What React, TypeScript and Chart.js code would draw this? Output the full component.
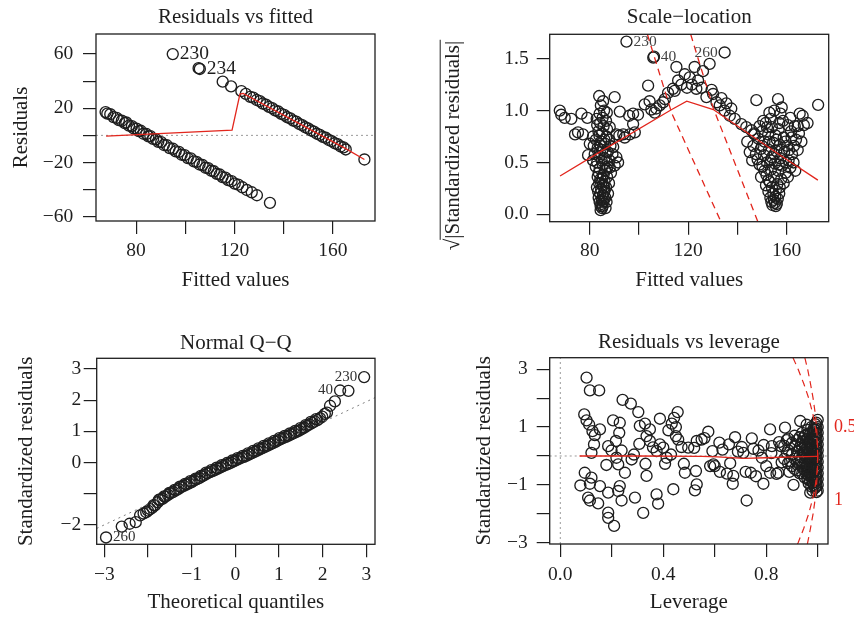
import React, { useEffect, useRef } from "react";
import { Chart, registerables } from "chart.js";

Chart.register(...registerables);

type Pair = [number, number];

const SERIF = '"Liberation Serif", "DejaVu Serif", serif';
const INK = "#1e1e1e";
const RED = "#e2261d";
const DOT = "#9a9a9a";

// ---------------- Panel 1: Residuals vs fitted ----------------
const p1XRange = [63.7, 177.1];
const p1YRange = [-63.2, 74.8];
const p1XTicks = [80, 100, 120, 140, 160];
const p1XLabels = ["80", "", "120", "", "160"];
const p1YTicks = [-60, -40, -20, 0, 20, 40, 60];
const p1YLabels = ["\u221260", "", "\u221220", "", "20", "", "60"];
const p1Points: Pair[] = [
  [67.6, 17.2], [68.3, 16.0], [69.5, 15.6], [70.8, 13.5], [72.1, 12.9], [73.0, 11.2], [74.2, 10.8], [75.4, 9.0],
  [76.0, 9.5], [77.1, 7.2], [78.3, 6.8], [79.0, 5.2], [80.2, 4.9], [81.1, 3.1], [81.9, 3.4], [83.0, 1.2],
  [84.2, 1.0], [85.0, -0.8], [85.8, -0.6], [86.9, -2.6], [88.1, -2.9], [89.0, -4.8], [90.2, -5.0], [91.3, -7.1],
  [92.5, -7.3], [93.6, -9.4], [95.0, -9.9], [96.1, -11.8], [97.4, -12.2], [98.5, -14.3], [99.7, -14.6], [101.0, -16.8],
  [102.2, -17.0], [103.5, -19.2], [104.6, -19.6], [105.8, -21.5], [107.0, -21.9], [108.2, -23.9], [109.3, -24.2],
  [110.5, -26.1], [111.6, -26.5], [112.8, -28.4], [114.0, -28.9], [115.1, -30.8], [116.3, -31.2], [117.4, -33.0],
  [118.8, -33.8], [120.1, -35.6], [121.5, -36.4], [123.2, -38.3], [125.0, -40.3], [127.0, -42.0], [129.1, -44.2],
  [134.4, -49.8],
  [94.9, 60.0], [105.4, 49.6], [105.9, 49.0], [115.2, 39.6], [118.6, 36.2], [122.8, 32.6], [124.6, 30.6],
  [126.4, 28.4], [127.6, 27.8], [129.0, 26.1], [130.3, 25.3], [131.5, 23.5], [132.8, 22.6], [134.0, 21.0],
  [135.3, 20.1], [136.5, 18.4], [137.8, 17.6], [139.0, 15.8], [140.2, 15.1], [141.4, 13.4], [142.7, 12.5],
  [143.9, 10.9], [145.1, 10.1], [146.3, 8.4], [147.5, 7.6], [148.7, 6.0], [149.9, 5.2], [151.1, 3.6], [152.3, 2.8],
  [153.5, 1.2], [154.7, 0.4], [155.9, -1.1], [157.1, -1.8], [158.3, -3.4], [159.5, -4.2], [160.7, -5.8],
  [161.9, -6.5], [163.1, -8.2], [164.3, -8.9], [165.2, -10.4], [172.8, -17.8],
];
const p1Smooth: Pair[] = [[67.8, -0.6], [119.0, 3.9], [122.2, 30.4], [123.5, 30.9], [145.0, 10.0], [165.0, -9.6], [172.8, -17.8]];
const p1Ids = [
  { text: "230", x: 94.9, y: 60.0, side: "r" },
  { text: "234", x: 105.9, y: 49.0, side: "r" },
];

// ---------------- Panel 2: Scale-location ----------------
const p2XRange = [63.7, 177.1];
const p2YRange = [-0.071, 1.735];
const p2XTicks = [80, 100, 120, 140, 160];
const p2XLabels = ["80", "", "120", "", "160"];
const p2YTicks = [0, 0.5, 1, 1.5];
const p2YLabels = ["0.0", "0.5", "1.0", "1.5"];
const p2YTitle = "\u221A|Standardized residuals|";
const p2Points: Pair[] = [
  [67.8, 1.0], [68.4, 0.96], [69.8, 0.93], [72.5, 0.92], [76.6, 0.97], [75.2, 0.79], [77.2, 0.77], [74.0, 0.77],
  [79.0, 0.93], [81.3, 0.75], [80.0, 0.68], [79.3, 0.57], [81.3, 0.52], [88.1, 0.84], [90.1, 1.13], [92.2, 0.99],
  [96.0, 0.95], [97.6, 0.97], [99.6, 0.96], [97.6, 0.87], [96.2, 0.77], [94.2, 0.74], [90.8, 0.77], [92.0, 0.76],
  [90.8, 0.55], [90.1, 0.47], [88.1, 0.45], [89.5, 0.65], [91.5, 0.5], [93.6, 0.77], [98.3, 0.79], [102.3, 1.06],
  [83.8, 1.14], [85.4, 1.09], [84.5, 1.05], [85.8, 1.0], [84.0, 0.97], [85.2, 0.93], [86.6, 0.9], [84.2, 0.88],
  [85.6, 0.85], [87.0, 0.82], [83.5, 0.8], [85.0, 0.78], [86.8, 0.75], [82.5, 0.72], [84.6, 0.7], [86.2, 0.68],
  [88.4, 0.66], [83.2, 0.64], [85.1, 0.62], [87.3, 0.6], [82.0, 0.58], [84.0, 0.56], [86.0, 0.54], [88.0, 0.52],
  [83.0, 0.5], [85.2, 0.48], [87.2, 0.46], [84.0, 0.44], [86.2, 0.42], [83.6, 0.4], [85.6, 0.38], [87.0, 0.36],
  [84.3, 0.34], [86.0, 0.32], [83.8, 0.3], [85.4, 0.28], [86.6, 0.26], [84.6, 0.24], [85.9, 0.22], [84.2, 0.2],
  [85.3, 0.18], [86.3, 0.16], [84.9, 0.14], [85.5, 0.12], [84.8, 0.1], [85.2, 0.08], [85.0, 0.06],
  [82.8, 0.92], [86.9, 0.98], [83.0, 0.86], [87.8, 0.72], [81.6, 0.66], [89.2, 0.58], [82.4, 0.46], [88.6, 0.4],
  [83.2, 0.36], [87.8, 0.3], [82.9, 0.26], [87.4, 0.2], [83.6, 0.16], [86.8, 0.12], [84.0, 0.12], [86.4, 0.06],
  [84.4, 0.04], [83.4, 0.22], [86.9, 0.44], [84.8, 0.52], [86.5, 0.6], [84.4, 0.66], [85.9, 0.72], [83.9, 0.76],
  [85.2, 0.35], [84.6, 0.3], [85.8, 0.26], [84.4, 0.08], [85.7, 0.15], [84.1, 0.6],
  [103.7, 1.24], [104.3, 1.09], [105.0, 1.01], [106.4, 0.98], [108.4, 1.05], [109.8, 1.08], [111.8, 1.17],
  [113.8, 1.21], [115.9, 1.29], [115.2, 1.42], [117.2, 1.25], [118.6, 1.35], [120.6, 1.32], [122.6, 1.42],
  [124.0, 1.29], [126.0, 1.38], [128.7, 1.45], [123.3, 1.21], [127.4, 1.13], [130.1, 1.16], [131.5, 1.08],
  [132.8, 1.05], [134.8, 1.0], [136.9, 0.95], [138.9, 0.92], [141.6, 0.87], [143.6, 0.84], [145.7, 0.81],
  [147.0, 0.77], [107.0, 1.02], [110.5, 1.11], [114.5, 1.19], [119.5, 1.22], [121.5, 1.25], [125.5, 1.22],
  [129.5, 1.2], [133.5, 1.12], [135.5, 1.07], [137.5, 1.02], [105.8, 1.51], [106.1, 1.52], [94.9, 1.665], [134.8, 1.56],
  [147.7, 1.1], [156.5, 1.11], [172.8, 1.055], [165.3, 0.97], [163.3, 0.85], [155.0, 1.0], [157.5, 0.97],
  [153.5, 0.92], [158.5, 0.9], [151.5, 0.88], [160.5, 0.86], [154.0, 0.84], [156.8, 0.82], [150.0, 0.8],
  [161.8, 0.8], [152.5, 0.77], [155.5, 0.76], [158.8, 0.74], [148.5, 0.73], [163.8, 0.72], [151.0, 0.7],
  [154.5, 0.69], [157.2, 0.67], [160.2, 0.66], [146.5, 0.66], [149.5, 0.63], [152.8, 0.62], [155.8, 0.61],
  [159.0, 0.6], [162.2, 0.58], [145.0, 0.6], [150.8, 0.57], [154.0, 0.55], [157.5, 0.54], [160.8, 0.52],
  [148.2, 0.53], [152.0, 0.5], [155.2, 0.49], [158.2, 0.47], [161.5, 0.45], [150.2, 0.46], [153.6, 0.43],
  [156.6, 0.42], [159.6, 0.4], [151.8, 0.38], [154.8, 0.36], [157.8, 0.34], [153.2, 0.31], [156.2, 0.29],
  [154.0, 0.26], [155.6, 0.23], [154.6, 0.2], [155.4, 0.17], [154.8, 0.14], [155.2, 0.11], [164.5, 0.85], [166.5, 0.95],
  [150.5, 0.9], [153.0, 0.98], [158.0, 1.03], [161.5, 0.93], [149.0, 0.85], [146.8, 0.78], [163.0, 0.66],
  [165.0, 0.78], [166.0, 0.7], [144.0, 0.7], [147.5, 0.58], [162.8, 0.5], [164.5, 0.62], [146.0, 0.52],
  [149.0, 0.48], [163.5, 0.42], [151.0, 0.42], [160.5, 0.36], [149.6, 0.36], [152.6, 0.33], [158.8, 0.3],
  [151.6, 0.28], [157.2, 0.26], [152.6, 0.22], [157.0, 0.2], [153.4, 0.16], [156.4, 0.15], [153.8, 0.12],
  [156.0, 0.1], [155.6, 0.08], [154.2, 0.09], [153.0, 0.7], [156.0, 0.72], [159.5, 0.7], [157.0, 0.88],
  [152.0, 0.84], [155.0, 0.58], [158.0, 0.62], [161.0, 0.62], [150.0, 0.66], [153.5, 0.52], [156.8, 0.48],
  [159.8, 0.5], [162.0, 0.74], [167.0, 0.86], [168.5, 0.88],
];
const p2Smooth: Pair[] = [[67.9, 0.37], [84.0, 0.6], [113.3, 1.01], [119.4, 1.09], [130.2, 1.01], [157.4, 0.57], [172.7, 0.33]];
const p2DashA: Pair[] = [[103.4, 1.735], [113.3, 0.975], [133.3, -0.071]];
const p2DashB: Pair[] = [[121.0, 1.735], [130.2, 1.023], [148.3, -0.071]];
const p2Ids = [
  { text: "230", x: 94.9, y: 1.665, side: "r" },
  { text: "40", x: 106.0, y: 1.517, side: "r" },
  { text: "260", x: 134.8, y: 1.56, side: "l" },
];

// ---------------- Panel 3: Normal Q-Q ----------------
const p3XRange = [-3.174, 3.199];
const p3YRange = [-2.63, 3.344];
const p3XTicks = [-3, -2, -1, 0, 1, 2, 3];
const p3XLabels = ["\u22123", "", "\u22121", "0", "1", "2", "3"];
const p3YTicks = [-2, -1, 0, 1, 2, 3];
const p3YLabels = ["\u22122", "", "0", "1", "2", "3"];
const p3Points: Pair[] = [
  [-2.96, -2.41], [-2.6, -2.06], [-2.42, -1.97], [-2.28, -1.92], [-2.18, -1.7], [-2.1, -1.64], [-2.04, -1.6],
  [-2.0, -1.55], [-1.95, -1.5], [-1.9, -1.45], [-1.84, -1.38], [-1.78, -1.28], [-1.72, -1.2], [-1.66, -1.16],
  [-1.6, -1.1], [-1.54, -1.04], [-1.48, -0.99], [-1.42, -0.95], [-1.36, -0.9], [-1.3, -0.85], [-1.24, -0.79],
  [-1.18, -0.75], [-1.12, -0.71], [-1.06, -0.67], [-1.0, -0.63], [-0.94, -0.58], [-0.88, -0.54], [-0.82, -0.5],
  [-0.76, -0.45], [-0.7, -0.4], [-0.64, -0.35], [-0.58, -0.31], [-0.52, -0.28], [-0.46, -0.24], [-0.4, -0.2],
  [-0.34, -0.16], [-0.28, -0.12], [-0.22, -0.08], [-0.16, -0.05], [-0.1, -0.01], [-0.04, 0.03], [0.02, 0.07],
  [0.08, 0.11], [0.14, 0.15], [0.2, 0.18], [0.26, 0.22], [0.32, 0.26], [0.38, 0.3], [0.44, 0.34], [0.5, 0.38],
  [0.56, 0.42], [0.62, 0.46], [0.68, 0.5], [0.74, 0.54], [0.8, 0.58], [0.86, 0.62], [0.92, 0.66], [0.98, 0.71],
  [1.04, 0.75], [1.1, 0.79], [1.16, 0.82], [1.22, 0.86], [1.28, 0.9], [1.34, 0.94], [1.4, 0.98], [1.46, 1.02],
  [1.52, 1.07], [1.58, 1.12], [1.64, 1.17], [1.7, 1.22], [1.76, 1.27], [1.82, 1.32], [1.88, 1.36], [1.94, 1.42],
  [1.99, 1.47], [2.05, 1.56], [2.1, 1.6], [2.17, 1.82], [2.28, 1.96], [2.4, 2.31], [2.59, 2.3], [2.95, 2.74],
  [-1.87, -1.37], [-1.75, -1.2], [-1.63, -1.09], [-1.51, -0.98], [-1.39, -0.88], [-1.27, -0.78], [-1.15, -0.69],
  [-1.03, -0.6], [-0.91, -0.52], [-0.79, -0.43], [-0.67, -0.33], [-0.55, -0.25], [-0.43, -0.17], [-0.31, -0.09],
  [-0.19, -0.02], [-0.07, 0.06], [0.05, 0.14], [0.17, 0.21], [0.29, 0.29], [0.41, 0.37], [0.53, 0.45],
  [0.65, 0.53], [0.77, 0.61], [0.89, 0.69], [1.01, 0.78], [1.13, 0.85], [1.25, 0.93], [1.37, 1.01], [1.49, 1.1],
  [1.61, 1.2], [1.73, 1.3], [1.85, 1.39],
];
const p3RefLine: Pair[] = [[-3.174, -2.12], [3.199, 2.08]];
const p3Ids = [
  { text: "230", x: 2.95, y: 2.74, side: "l" },
  { text: "40", x: 2.4, y: 2.31, side: "l" },
  { text: "260", x: -2.96, y: -2.41, side: "r" },
];

// ---------------- Panel 4: Residuals vs leverage ----------------
const p4XRange = [-0.0412, 1.04];
const p4YRange = [-3.045, 3.401];
const p4XTicks = [0, 0.2, 0.4, 0.6, 0.8, 1.0];
const p4XLabels = ["0.0", "", "0.4", "", "0.8", ""];
const p4YTicks = [-3, -2, -1, 0, 1, 2, 3];
const p4YLabels = ["\u22123", "", "\u22121", "", "1", "", "3"];
const p4Points: Pair[] = [
  [0.102, 2.71], [0.115, 2.27], [0.151, 2.27], [0.242, 1.94], [0.274, 1.81], [0.303, 1.52], [0.093, 1.44],
  [0.102, 1.23], [0.112, 1.09], [0.125, 0.86], [0.134, 0.72], [0.154, 0.92], [0.131, 0.4], [0.121, 0.11],
  [0.205, 1.23], [0.231, 1.15], [0.229, 0.8], [0.216, 0.52], [0.186, 0.34], [0.199, 0.19], [0.238, 0.19],
  [0.218, -0.06], [0.179, -0.31], [0.225, -0.29], [0.251, -0.58], [0.095, -0.58], [0.121, -0.75], [0.115, -0.96],
  [0.078, -1.02], [0.154, -1.04], [0.186, -1.27], [0.231, -1.04], [0.225, -1.21], [0.238, -1.54], [0.108, -1.44],
  [0.115, -1.54], [0.147, -1.64], [0.186, -1.96], [0.186, -2.14], [0.209, -2.42], [0.29, -1.44], [0.322, -1.97],
  [0.307, 0.42], [0.309, 1.04], [0.329, 1.12], [0.348, 0.92], [0.335, 0.69], [0.348, 0.52], [0.331, -0.27],
  [0.335, -0.69], [0.277, -0.12], [0.286, 0.05], [0.387, 1.29], [0.387, 0.4], [0.374, 0.17], [0.4, 0.29],
  [0.413, -0.06], [0.407, -0.27], [0.374, -1.33], [0.38, -1.65], [0.439, -1.15], [0.42, 0.89], [0.433, 1.12],
  [0.442, 1.32], [0.456, 1.52], [0.449, 1.0], [0.449, 0.69], [0.458, 0.57], [0.471, 0.31], [0.48, -0.27],
  [0.484, -0.58], [0.497, 0.29], [0.53, 0.52], [0.527, -0.52], [0.53, -0.98], [0.523, -1.19], [0.549, 0.57],
  [0.575, 0.84], [0.591, 0.17], [0.595, -0.29], [0.582, -0.35], [0.618, 0.46], [0.655, 0.4], [0.679, 0.65],
  [0.647, -0.61], [0.672, -0.69], [0.67, -0.96], [0.705, 0.31], [0.711, 0.11], [0.724, -1.54], [0.744, 0.61],
  [0.74, -0.58], [0.77, 0.19], [0.783, -0.06], [0.789, -0.96], [0.815, 0.92], [0.822, 0.34], [0.815, -0.58],
  [0.847, -0.58], [0.857, 0.34], [0.873, 0.98], [0.88, 0.11], [0.906, -1.0], [0.932, 1.21], [0.971, -1.27],
  [0.893, -0.18], [0.36, 0.3], [0.43, 0.05], [0.52, 0.28], [0.56, 0.62], [0.6, -0.35], [0.63, 0.22],
  [0.66, -0.25], [0.69, 0.15], [0.72, -0.55], [0.75, 0.25], [0.76, -0.7], [0.79, 0.38], [0.8, -0.35],
  [0.82, 0.1], [0.84, -0.62], [0.85, 0.48], [0.86, -0.22], [0.88, 0.55], [0.89, -0.55], [0.62, -0.55],
  [1.0, 1.25], [1.0, 1.0], [1.0, 0.8], [1.0, 0.6], [1.0, 0.4], [1.0, 0.2], [1.0, 0.0], [1.0, -0.2], [1.0, -0.4],
  [1.0, -0.6], [1.0, -0.8], [1.0, -1.0], [1.0, -1.2], [0.99, 1.1], [0.99, 0.9], [0.99, 0.7], [0.99, 0.5],
  [0.99, 0.3], [0.99, 0.1], [0.99, -0.1], [0.99, -0.3], [0.99, -0.5], [0.99, -0.7], [0.99, -0.9], [0.99, -1.1],
  [0.98, 0.85], [0.98, 0.6], [0.98, 0.35], [0.98, 0.1], [0.98, -0.15], [0.98, -0.4], [0.98, -0.65], [0.98, -0.9],
  [0.98, -1.2], [0.97, 0.75], [0.97, 0.45], [0.97, 0.15], [0.97, -0.1], [0.97, -0.35], [0.97, -0.6], [0.97, -0.85],
  [0.96, 0.9], [0.96, 0.6], [0.96, 0.3], [0.96, 0.0], [0.96, -0.3], [0.96, -0.55], [0.96, -0.8], [0.95, 0.7],
  [0.95, 0.4], [0.95, 0.1], [0.95, -0.2], [0.95, -0.5], [0.95, -0.75], [0.94, 0.8], [0.94, 0.5], [0.94, 0.25],
  [0.94, -0.05], [0.94, -0.35], [0.94, -0.6], [0.93, 0.65], [0.93, 0.3], [0.93, 0.0], [0.93, -0.3], [0.93, -0.6],
  [0.92, 0.55], [0.92, 0.15], [0.92, -0.2], [0.92, -0.5], [0.91, 0.7], [0.91, 0.35], [0.91, -0.1], [0.91, -0.45],
  [0.9, 0.45], [0.9, 0.05], [0.9, -0.35], [0.885, 0.6], [0.885, 0.2], [0.885, -0.25], [0.87, 0.35], [0.87, -0.1],
  [0.957, 1.08],
  [0.995, 1.15], [0.995, 0.95], [0.995, 0.75], [0.995, 0.55], [0.995, 0.35], [0.995, 0.15], [0.995, -0.05],
  [0.995, -0.25], [0.995, -0.45], [0.995, -0.65], [0.995, -0.85], [0.995, -1.05], [0.995, -1.25], [0.985, 0.95],
  [0.985, 0.72], [0.985, 0.48], [0.985, 0.22], [0.985, -0.02], [0.985, -0.28], [0.985, -0.52], [0.985, -0.78],
  [0.985, -1.02], [0.975, 1.0], [0.975, 0.6], [0.975, 0.3], [0.975, 0.02], [0.975, -0.25], [0.975, -0.48],
  [0.975, -0.72], [0.975, -1.05], [0.965, 0.78], [0.965, 0.45], [0.965, 0.15], [0.965, -0.15], [0.965, -0.42],
  [0.965, -0.68], [0.965, -0.95], [0.955, 0.55], [0.955, 0.25], [0.955, -0.05], [0.955, -0.35], [0.955, -0.62],
  [0.945, 0.62], [0.945, 0.1], [0.945, -0.45], [0.935, 0.4], [0.935, -0.15],
];
const p4Smooth: Pair[] = [[0.075, 0.0], [0.3, 0.0], [0.55, -0.01], [0.61, -0.03], [0.714, -0.08], [0.8, -0.06], [0.908, -0.03], [1.0, -0.01]];
const cook05Upper: Pair[] = [[0.904, 3.4], [0.924, 3.0], [0.946, 2.5], [0.965, 2.0], [0.98, 1.5], [0.991, 1.0], [0.998, 0.5], [1.0, 0.0]];
const cook05Lower: Pair[] = [[0.921, -3.045], [0.924, -3.0], [0.946, -2.5], [0.965, -2.0], [0.98, -1.5], [0.991, -1.0], [0.998, -0.5], [1.0, 0.0]];
const cook1Upper: Pair[] = [[0.95, 3.4], [0.961, 3.0], [0.972, 2.5], [0.982, 2.0], [0.99, 1.5], [0.9955, 1.0], [0.9989, 0.5], [1.0, 0.0]];
const cook1Lower: Pair[] = [[0.96, -3.045], [0.961, -3.0], [0.972, -2.5], [0.982, -2.0], [0.99, -1.5], [0.9955, -1.0], [0.9989, -0.5], [1.0, 0.0]];
const cookLabels = [
  { text: "0.5", y: 1.0 },
  { text: "1", y: -1.53 },
];

// ---------------- helpers ----------------
const toXY = (arr: Pair[]) => arr.map(([x, y]) => ({ x, y }));

function pointSet(arr: Pair[]) {
  return {
    type: "scatter",
    data: toXY(arr),
    showLine: false,
    pointStyle: "circle",
    pointRadius: 5.5,
    pointHoverRadius: 5.5,
    pointBorderWidth: 1.35,
    pointBorderColor: INK,
    pointBackgroundColor: "rgba(0,0,0,0)",
    borderColor: INK,
    backgroundColor: "rgba(0,0,0,0)",
    order: 2,
  };
}

function lineSet(arr: Pair[], color: string, width: number, dash: number[], order: number) {
  return {
    type: "scatter",
    data: toXY(arr),
    showLine: true,
    borderColor: color,
    backgroundColor: color,
    borderWidth: width,
    borderDash: dash,
    pointRadius: 0,
    pointHoverRadius: 0,
    fill: false,
    tension: 0,
    order,
  };
}

function axisCfg(o: any) {
  return {
    type: "linear",
    min: o.range[0],
    max: o.range[1],
    afterBuildTicks: (s: any) => {
      s.ticks = o.ticks.map((v: number) => ({ value: v }));
    },
    afterFit: (s: any) => {
      if (o.isY) s.width = o.size;
      else s.height = o.size;
    },
    grid: { display: true, drawOnChartArea: false, drawTicks: true, tickLength: 13, color: INK, lineWidth: 1.2 },
    border: { display: false },
    ticks: {
      autoSkip: false,
      maxRotation: 0,
      minRotation: 0,
      padding: o.tickPad,
      color: INK,
      font: { family: SERIF, size: 19.5 },
      callback: (_v: any, i: number) => o.labels[i],
    },
    title: o.title
      ? {
          display: true,
          text: o.title,
          color: INK,
          font: { family: SERIF, size: 21 },
          padding: o.isY ? { top: o.titlePad, bottom: 0 } : { top: 0, bottom: o.titlePad },
        }
      : { display: false },
  };
}

const framePlugin = {
  id: "frame",
  afterDraw(chart: any) {
    const { ctx, chartArea: a } = chart;
    ctx.save();
    ctx.strokeStyle = INK;
    ctx.lineWidth = 1.3;
    ctx.strokeRect(a.left, a.top, a.right - a.left, a.bottom - a.top);
    ctx.restore();
  },
};

function mainTitlePlugin(text: string, gap: number) {
  return {
    id: "mainTitle",
    afterDraw(chart: any) {
      const { ctx, chartArea: a } = chart;
      ctx.save();
      ctx.font = `21px ${SERIF}`;
      ctx.fillStyle = INK;
      ctx.textAlign = "center";
      ctx.textBaseline = "alphabetic";
      ctx.fillText(text, (a.left + a.right) / 2, a.top - gap);
      ctx.restore();
    },
  };
}

function idPlugin(ids: any[], size: number, color: string) {
  return {
    id: "ids",
    afterDatasetsDraw(chart: any) {
      const { ctx } = chart;
      const xs = chart.scales.x;
      const ys = chart.scales.y;
      ctx.save();
      ctx.font = `${size}px ${SERIF}`;
      ctx.fillStyle = color;
      ctx.textBaseline = "middle";
      ids.forEach((d) => {
        const px = xs.getPixelForValue(d.x);
        const py = ys.getPixelForValue(d.y);
        ctx.textAlign = d.side === "r" ? "left" : "right";
        ctx.fillText(d.text, px + (d.side === "r" ? 7 : -7), py);
      });
      ctx.restore();
    },
  };
}

const cookLabelPlugin = {
  id: "cookLabels",
  afterDraw(chart: any) {
    const { ctx, chartArea: a } = chart;
    const ys = chart.scales.y;
    ctx.save();
    ctx.font = `18px ${SERIF}`;
    ctx.fillStyle = RED;
    ctx.textAlign = "left";
    ctx.textBaseline = "middle";
    cookLabels.forEach((d) => ctx.fillText(d.text, a.right + 6, ys.getPixelForValue(d.y)));
    ctx.restore();
  },
};

const sqrtTitlePlugin = {
  id: "sqrtTitle",
  afterDraw(chart: any) {
    const { ctx } = chart;
    ctx.save();
    ctx.font = `21px ${SERIF}`;
    ctx.fillStyle = INK;
    ctx.strokeStyle = INK;
    ctx.translate(26.2, 145.5);
    ctx.rotate(-Math.PI / 2);
    ctx.textAlign = "center";
    ctx.textBaseline = "middle";
    ctx.fillText(p2YTitle, 0, 0);
    const w = ctx.measureText(p2YTitle).width;
    const sw = ctx.measureText("\u221A").width;
    ctx.lineWidth = 1;
    ctx.beginPath();
    ctx.moveTo(-w / 2 + sw * 0.9, -13);
    ctx.lineTo(w / 2 + 1, -13);
    ctx.stroke();
    ctx.restore();
  },
};

function buildConfig(p: any) {
  return {
    type: "scatter",
    data: { datasets: p.datasets },
    options: {
      responsive: false,
      animation: false,
      devicePixelRatio: 1,
      events: [],
      layout: { padding: { left: 0, top: p.top, bottom: 0, right: p.rightPad } },
      plugins: {
        legend: { display: false },
        tooltip: { enabled: false },
        title: { display: false, text: p.title },
      },
      scales: {
        x: axisCfg({ ...p.x, isY: false }),
        y: axisCfg({ ...p.y, isY: true }),
      },
    },
    plugins: [framePlugin, mainTitlePlugin(p.title, p.titleGap), ...(p.plugins || [])],
  };
}

const panel1 = {
  title: "Residuals vs fitted",
  top: 34,
  titleGap: 11.3,
  rightPad: 52,
  x: { range: p1XRange, ticks: p1XTicks, labels: p1XLabels, title: "Fitted values", titlePad: 17.2, tickPad: 5.3, size: 89 },
  y: { range: p1YRange, ticks: p1YTicks, labels: p1YLabels, title: "Residuals", titlePad: 8.6, tickPad: 9.7, size: 96 },
  datasets: [
    lineSet(p1Smooth, RED, 1.3, [], 0),
    pointSet(p1Points),
    lineSet([[p1XRange[0], 0], [p1XRange[1], 0]], DOT, 1, [2, 3], 3),
  ],
  plugins: [idPlugin(p1Ids, 19.5, INK)],
};

const panel2 = {
  title: "Scale\u2212location",
  top: 34.3,
  titleGap: 11,
  rightPad: 25.3,
  x: { range: p2XRange, ticks: p2XTicks, labels: p2XLabels, title: "Fitted values", titlePad: 17.2, tickPad: 4.4, size: 88.3 },
  y: { range: p2YRange, ticks: p2YTicks, labels: p2YLabels, title: null, titlePad: 0, tickPad: 8, size: 122.7 },
  datasets: [
    lineSet(p2Smooth, RED, 1.3, [], 0),
    lineSet(p2DashA, RED, 1.3, [7, 5], 1),
    lineSet(p2DashB, RED, 1.3, [7, 5], 1),
    pointSet(p2Points),
  ],
  plugins: [idPlugin(p2Ids, 15.5, "#444"), sqrtTitlePlugin],
};

const panel3 = {
  title: "Normal Q\u2212Q",
  top: 48.3,
  titleGap: 9,
  rightPad: 52,
  x: { range: p3XRange, ticks: p3XTicks, labels: p3XLabels, title: "Theoretical quantiles", titlePad: 5.2, tickPad: 6.0, size: 75.7 },
  y: { range: p3YRange, ticks: p3YTicks, labels: p3YLabels, title: "Standardized residuals", titlePad: 13.6, tickPad: 2.5, size: 96.7 },
  datasets: [pointSet(p3Points), lineSet(p3RefLine, "#808080", 1, [2, 4], 0)],
  plugins: [idPlugin(p3Ids, 15, "#333")],
};

const panel4 = {
  title: "Residuals vs leverage",
  top: 47.7,
  titleGap: 9.4,
  rightPad: 26,
  x: { range: p4XRange, ticks: p4XTicks, labels: p4XLabels, title: "Leverage", titlePad: 4.5, tickPad: 6.3, size: 76 },
  y: { range: p4YRange, ticks: p4YTicks, labels: p4YLabels, title: "Standardized residuals", titlePad: 45.3, tickPad: 9, size: 122.7 },
  datasets: [
    lineSet(p4Smooth, RED, 1.3, [], 0),
    lineSet(cook05Upper, RED, 1.2, [7, 5], 1),
    lineSet(cook05Lower, RED, 1.2, [7, 5], 1),
    lineSet(cook1Upper, RED, 1.2, [7, 5], 1),
    lineSet(cook1Lower, RED, 1.2, [7, 5], 1),
    pointSet(p4Points),
    lineSet([[p4XRange[0], 0], [p4XRange[1], 0]], DOT, 1, [2, 3], 3),
    lineSet([[0, p4YRange[0]], [0, p4YRange[1]]], DOT, 1, [2, 3], 3),
  ],
  plugins: [cookLabelPlugin],
};

function Panel({ spec, left, top }: { spec: any; left: number; top: number }) {
  const ref = useRef<HTMLCanvasElement>(null);
  useEffect(() => {
    const chart = new Chart(ref.current as HTMLCanvasElement, buildConfig(spec) as any);
    return () => chart.destroy();
  }, [spec]);
  return (
    <canvas
      ref={ref}
      width={427}
      height={310}
      style={{ position: "absolute", left, top, width: 427, height: 310 }}
    />
  );
}

export default function App() {
  return (
    <div style={{ position: "absolute", left: 0, top: 0, width: 854, height: 620, background: "#fff" }}>
      <Panel spec={panel1} left={0} top={0} />
      <Panel spec={panel2} left={427} top={0} />
      <Panel spec={panel3} left={0} top={310} />
      <Panel spec={panel4} left={427} top={310} />
    </div>
  );
}
